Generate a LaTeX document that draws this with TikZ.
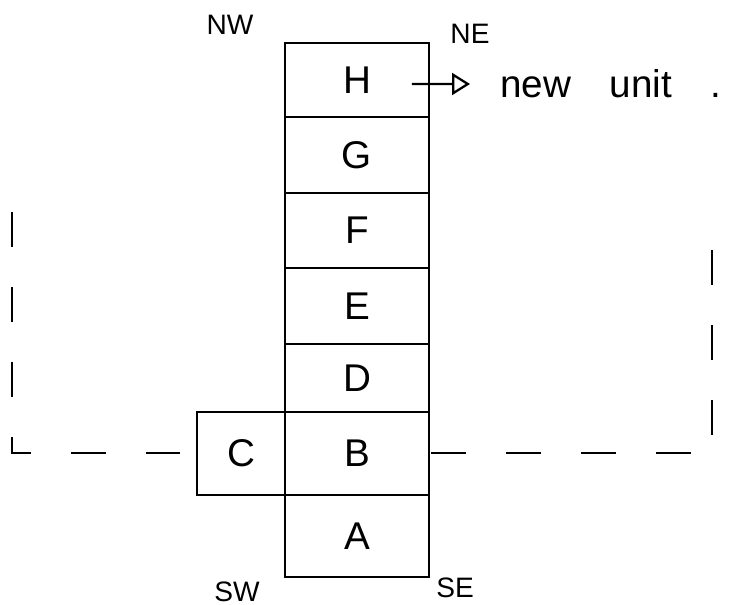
\documentclass[tikz,border=0pt]{standalone}
\usepackage{fontspec}
\setmainfont{Liberation Sans}
\usepackage{tikz}
\usetikzlibrary{arrows.meta, positioning}
\tikzstyle{cell}=[rectangle, draw=black, line width=1.6pt, minimum width=2.88cm, inner sep=0pt, outer sep=0pt, font=\fontsize{22}{26}\selectfont]
\tikzstyle{corner}=[font=\fontsize{16}{19}\selectfont]
\tikzstyle{frame}=[line width=1.1pt, dash pattern=on 0.7cm off 0.8cm]

\begin{document}
\begin{tikzpicture}[x=0.02cm, y=-0.02cm]
      \useasboundingbox (0,0) rectangle (751,605);

      % the stack of units
      \node[cell, minimum height=1.48cm] (h) at (357,80) {H};
      \node[cell, minimum height=1.52cm] (g) [below=0pt of h] {G};
      \node[cell, minimum height=1.50cm] (f) [below=0pt of g] {F};
      \node[cell, minimum height=1.52cm] (e) [below=0pt of f] {E};
      \node[cell, minimum height=1.36cm] (d) [below=0pt of e] {D};
      \node[cell, minimum height=1.66cm] (b) [below=0pt of d] {B};
      \node[cell, minimum height=1.64cm] (a) [below=0pt of b] {A};
      \node[cell, minimum width=1.76cm, minimum height=1.66cm] (c) [left=0pt of b] {C};

      % corners
      \node[corner] (nw) at (230,25) {NW};
      \node[corner] (ne) at (470,34) {NE};
      \node[corner] (sw) at (237,592) {SW};
      \node[corner] (se) at (455,588) {SE};

      % new unit
      \coordinate (hin) at ([xshift=-0.34cm, yshift=-0.08cm]h.east);
      \node[anchor=west, inner sep=0pt, font=\fontsize{22}{26}\selectfont] (unit) at (500,84) {new\quad unit\quad .};
      \draw[line width=1.3pt, shorten >=0.6cm, -{Triangle[open, length=0.36cm, width=0.44cm]}] (hin) -- (unit.west);

      % dashed outline
      \draw[frame] (12,212) |- ([xshift=-0.28cm]c.west);
      \draw[frame] ([xshift=0.04cm]b.east) -| (712,243);
\end{tikzpicture}
\end{document}
